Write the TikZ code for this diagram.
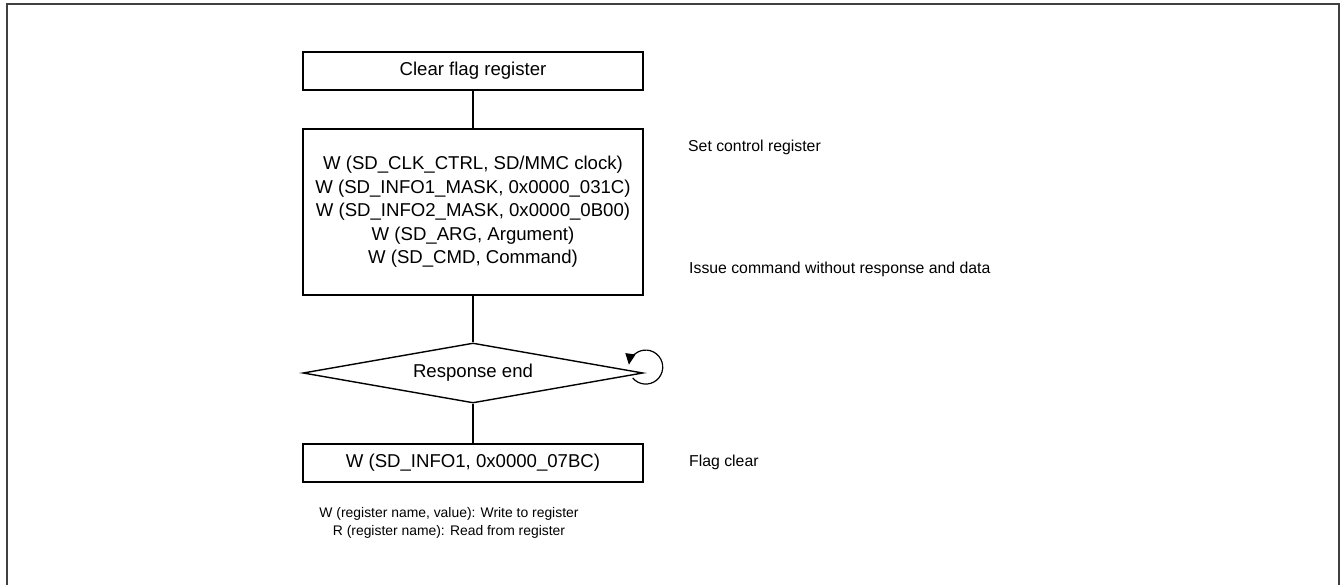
\documentclass[tikz,border=0pt]{standalone}
\usepackage{fontspec}
\setmainfont{Liberation Sans}
\usepackage{tikz}
\usetikzlibrary{shapes.geometric,arrows.meta}
\definecolor{framegray}{HTML}{404040}

\begin{document}
\begin{tikzpicture}[x=1pt,y=1pt,
  stepbox/.style={draw,line width=1.4pt,minimum width=340pt,inner sep=0pt,align=center,font=\fontsize{18.6}{23.5}\selectfont},
  remark/.style={anchor=west,inner sep=0pt,font=\fontsize{15.8}{19}\selectfont},
  link/.style={line width=1.2pt}]
\useasboundingbox (0,0) rectangle (1341,-585);
% Frame
\draw[framegray,line width=2pt] (6.5,-585) -- (6.5,-4.5) -- (1339,-4.5) -- (1339,-585);
% Flow
\node[stepbox,minimum height=38pt] (clear) at (473,-71) {Clear flag register};
\node[stepbox,minimum height=166pt] (setreg) at (473,-212)
  {W (SD\_CLK\_CTRL, SD/MMC clock)\\
   W (SD\_INFO1\_MASK, 0x0000\_031C)\\
   W (SD\_INFO2\_MASK, 0x0000\_0B00)\\
   W (SD\_ARG, Argument)\\
   W (SD\_CMD, Command)};
\node[draw,diamond,line width=1.4pt,aspect=5.67,minimum width=340pt,minimum height=60pt,inner sep=0pt,
  font=\fontsize{18.6}{23.5}\selectfont] (resp) at (473,-373) {Response end};
\node[stepbox,minimum height=38pt] (flagclr) at (473,-463) {W (SD\_INFO1, 0x0000\_07BC)};
\draw[link] (clear) -- (setreg);
\draw[link] (setreg) -- (resp);
\draw[link] (resp) -- (flagclr);
% Wait loop
\draw[link,-{Triangle[length=11pt,width=10pt]}] ([shift={(-11,-5)}]resp.east)
  arc[start angle=-140,end angle=172,radius=17];
% Remarks
\node[remark] (rset) at (688,-147) {Set control register};
\node[remark] (rissue) at (689,-269) {Issue command without response and data};
\node[remark] (rflag) at (689,-462) {Flag clear};
\node[align=center,inner sep=0pt,font=\fontsize{13.9}{18}\selectfont] (legend) at (449,-523)
  {W (register name, value): Write to register\\R (register name): Read from register};
\end{tikzpicture}
\end{document}
